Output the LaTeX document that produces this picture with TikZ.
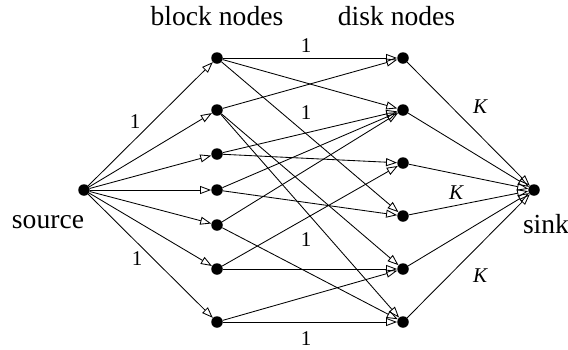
\documentclass[tikz,border=0pt]{standalone}
\usepackage{fontspec}
\setmainfont{Liberation Serif}
\usetikzlibrary{arrows.meta}
\begin{document}
\begin{tikzpicture}[x=1pt,y=-1pt,
  vertex/.style={circle,fill=black,inner sep=0pt,minimum size=11.5pt},
  flow/.style={line width=0.85pt,-{Triangle[open,length=11pt,width=8pt,line width=0.85pt]}},
  title/.style={font=\fontsize{27.6}{32}\selectfont,anchor=base,inner sep=0pt},
  caplabel/.style={font=\fontsize{21}{25}\selectfont,inner sep=0pt},
  capk/.style={font=\fontsize{21}{25}\selectfont\itshape,inner sep=0pt}]
\path[use as bounding box] (0,0) rectangle (568,349);

% source and sink
\node[vertex] (s) at (84,190) {};
\node[vertex] (t) at (534,190) {};

% block nodes
\foreach \i/\y in {1/58,2/110,3/154,4/190,5/225,6/269,7/322}
  \node[vertex] (b\i) at (217,\y) {};
% disk nodes
\foreach \i/\y in {1/58,2/110,3/163,4/216,5/269,6/322}
  \node[vertex] (d\i) at (403,\y) {};

% source to blocks
\foreach \i in {1,...,7}
  \draw[flow] (s) -- (b\i);

% blocks to disks
\foreach \a/\b in {1/1,1/2,1/4,2/1,2/5,2/6,3/2,3/3,4/2,4/4,5/2,5/6,6/3,6/5,7/5,7/6}
  \draw[flow] (b\a) -- (d\b);

% disks to sink
\foreach \i in {1,...,6}
  \draw[flow] (d\i) -- (t);

% headings
\node[title] (hb) at (217,25) {block nodes};
\node[title] (hd) at (396.5,25) {disk nodes};
\node[title] (hs) at (48,228) {source};
\node[title] (ht) at (546,233) {sink};

% capacities
\node[caplabel] (c1) at (135,122) {1};
\node[caplabel] (c2) at (137,259) {1};
\node[caplabel] (c3) at (306,46) {1};
\node[caplabel] (c4) at (306,112.5) {1};
\node[caplabel] (c5) at (306,239.5) {1};
\node[caplabel] (c6) at (306,338.5) {1};
\node[capk] (k1) at (480,106.5) {K};
\node[capk] (k2) at (456,192.5) {K};
\node[capk] (k3) at (480,276) {K};
\end{tikzpicture}
\end{document}
